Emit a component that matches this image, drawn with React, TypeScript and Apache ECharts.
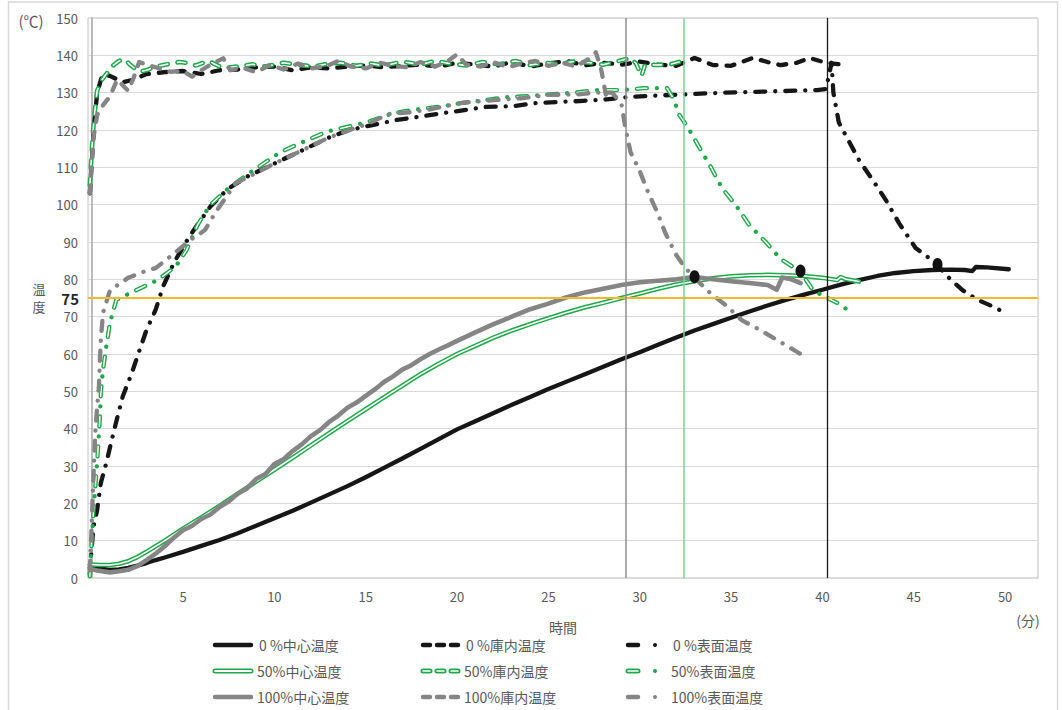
import React, { useEffect, useRef } from "react";
import * as echarts from "echarts";

// ---------- data (time in minutes, temperature in ℃) ----------
const xTickLabels = [5, 10, 15, 20, 25, 30, 35, 40, 45, 50];

const center0: number[][] = [
  [-0.1, 2.8], [0.5, 2.5], [1, 2.2], [1.5, 2.3], [2, 2.7], [2.5, 3.3], [3, 4], [3.5, 4.8], [4, 5.5], [5, 7],
  [6, 8.6], [7, 10.2], [8, 12], [9, 14], [10, 16], [11, 18], [12, 20.2], [13, 22.4], [14, 24.6], [15, 27],
  [16, 29.5], [17, 32], [18, 34.6], [19, 37.2], [20, 39.8], [21, 42], [22, 44.2], [23, 46.4], [24, 48.5],
  [25, 50.6], [26, 52.6], [27, 54.6], [28, 56.6], [29, 58.6], [30, 60.5], [31, 62.5], [32, 64.4], [33, 66.3],
  [34, 68], [35, 69.7], [36, 71.4], [37, 73], [38, 74.5], [39, 75.9], [40, 77.2], [41, 78.6], [42, 79.8],
  [43, 80.9], [44, 81.7], [45, 82.2], [46, 82.5], [47, 82.6], [47.8, 82.5], [48.2, 82.2], [48.4, 83.3],
  [49, 83.2], [50.2, 82.7],
];

const chamber0: number[][] = [
  [-0.1, 103], [0.05, 115], [0.15, 122], [0.3, 130], [0.6, 135], [1, 134.5], [1.7, 132.8], [2.3, 133.5],
  [3, 135], [4, 135.5], [5, 135.8], [6, 135], [7, 136], [8, 136.2], [9, 136.8], [10, 137], [11, 136],
  [12, 136.8], [13, 136.5], [14, 137], [15, 137.3], [16, 136.8], [17, 137.2], [18, 137.5], [19, 137],
  [20, 138], [21, 137.5], [22, 137], [23, 138.2], [24, 137], [25, 137.8], [26, 138.5], [27, 137.3],
  [28, 138], [29, 137.5], [30, 138.3], [31, 137.5], [32, 137.2], [33, 139.3], [34, 137.4], [35, 137.2],
  [36.2, 139.3], [37, 138.2], [37.7, 137.4], [38.6, 138], [39.3, 139.3], [40.2, 138], [41.3, 137.4],
];

const surface0: number[][] = [
  [-0.1, 1], [0, 8], [0.1, 13.7], [0.3, 18.2], [0.5, 25.4], [0.8, 30.8], [1.1, 37], [1.4, 42.9], [1.7, 48.6],
  [2.2, 54.9], [2.5, 59.3], [3, 66.4], [3.5, 71.8], [3.9, 78], [4.5, 84.4], [5.1, 89.5], [5.7, 94],
  [6.5, 99.5], [7.4, 104], [8.5, 107.5], [10, 111], [11.5, 114.5], [13, 118], [14.1, 120], [16.7, 122.7],
  [18, 123.6], [19.2, 124.5], [20.5, 125.4], [21.6, 126.2], [23.1, 126.4], [24.3, 127.2], [26.9, 127.8],
  [28.2, 128.2], [29.5, 128.9], [31.8, 129.4], [34.6, 130], [36.9, 130.3], [39.7, 130.7], [40.2, 131],
  [40.5, 138], [40.6, 130], [40.9, 122], [41.5, 116.5], [42, 112], [42.9, 105.5], [43.5, 101], [44.2, 95],
  [45.1, 88.4], [45.9, 85.5], [46.3, 83.8], [47, 80], [47.7, 77], [48.5, 74.5], [49.2, 73], [49.9, 71.3],
];

const center50: number[][] = [
  [-0.1, 3.6], [0.5, 3.5], [1, 3.5], [1.5, 3.8], [2, 4.5], [2.5, 5.6], [3, 7], [3.5, 8.5], [4, 10], [5, 13.2],
  [6, 16.2], [7, 19.3], [8, 22.6], [9, 25.8], [10, 29], [11, 32.2], [12, 35.5], [13, 38.8], [14, 42],
  [15, 45.2], [16, 48.4], [17, 51.5], [18, 54.6], [19, 57.4], [20, 60], [21, 62.2], [22, 64.4], [23, 66.3],
  [24, 68], [25, 69.6], [26, 71.1], [27, 72.5], [28, 73.7], [29, 75], [30, 76.2], [31, 77.5], [32, 78.6],
  [33, 79.5], [34, 80.3], [35, 80.8], [36, 81.1], [37, 81.2], [38, 81.1], [39, 80.9], [40, 80.4],
  [40.8, 79.8], [41, 80.6], [41.3, 80], [42, 79.4],
];

const chamber50: number[][] = [
  [-0.1, 105], [0.05, 118], [0.15, 124], [0.3, 130.5], [0.5, 133], [0.8, 135], [1.2, 137.4], [1.5, 138.5],
  [1.8, 139], [2.1, 137.5], [2.6, 135.6], [3, 136], [3.4, 136.8], [4, 137.5], [4.8, 138.2], [5.2, 138],
  [5.7, 137.3], [6.4, 138.5], [6.8, 137.5], [7.2, 136.6], [8, 137], [8.8, 137.6], [9.5, 137], [10.5, 138],
  [11.3, 137.5], [12.1, 137], [12.8, 137.6], [13.6, 138], [14.5, 137.2], [15.3, 137.8], [16, 137.2],
  [17, 138.3], [18, 137.5], [18.8, 138.5], [19.6, 137.8], [20.5, 137.3], [21.4, 138.2], [22.3, 137.6],
  [23.2, 138.5], [24, 137.4], [24.8, 138], [25.6, 137.6], [26.4, 138.4], [27.3, 138], [28, 137.5],
  [28.6, 138.2], [29.5, 139.3], [29.8, 137.8], [30.1, 134.5], [30.3, 137.6], [30.9, 137.4], [31.6, 137.5],
  [32.2, 138.3], [32.4, 138.5],
];

const surface50: number[][] = [
  [-0.1, 0.5], [0, 10], [0.1, 18], [0.2, 24.5], [0.3, 31], [0.4, 38.8], [0.45, 43], [0.5, 49.5],
  [0.62, 55.7], [0.8, 62], [1, 68.3], [1.35, 74.5], [2.4, 77], [3.6, 79.8], [4.6, 83.4], [5.2, 87.9],
  [5.8, 94.6], [6.5, 100], [7.4, 104], [8.5, 108], [10.3, 114], [11.8, 117.3], [12.9, 119.6], [15, 122],
  [16.5, 124.5], [17.6, 125.4], [19, 126.2], [20.2, 127.2], [21.4, 127.9], [22.7, 128.8], [24, 129.1],
  [25.3, 129.6], [26.5, 130], [27.6, 130.7], [29.1, 130.7], [30.2, 131.2], [31.5, 131.2], [31.9, 128],
  [32.1, 124.5], [32.6, 121], [33.3, 115], [33.9, 110], [34.5, 104.5], [35.3, 99.6], [36, 94.5],
  [36.9, 90], [37.7, 85.5], [38.8, 82], [39.5, 77], [40.8, 73.7], [41.7, 70.8],
];

const center100: number[][] = [
  [-0.1, 2.5], [0.3, 2], [1, 1.5], [1.5, 1.8], [2, 2.2], [2.5, 3.2], [3, 4.8], [3.5, 6.5], [4, 8.5],
  [4.5, 10.8], [5, 12.8], [5.5, 14], [6, 15.8], [6.5, 17], [7, 19], [7.5, 20.5], [8, 22.6], [8.5, 24],
  [9, 26.5], [9.5, 27.8], [10, 30.5], [10.5, 31.8], [11, 34], [11.5, 35.8], [12, 38], [12.5, 39.6],
  [13, 41.8], [13.5, 43.5], [14, 45.6], [14.5, 47], [15, 48.8], [15.5, 50.5], [16, 52.5], [16.5, 54],
  [17, 55.8], [17.5, 57], [18, 58.6], [18.5, 60], [19, 61.2], [19.5, 62.3], [20, 63.5], [21, 65.8],
  [22, 68], [23, 70], [24, 72], [25, 73.5], [26, 75.2], [27, 76.5], [28, 77.5], [29, 78.5], [30, 79.2],
  [31, 79.6], [32, 80], [33, 80.6], [34, 80], [35, 79.5], [36, 79], [37, 78.5], [37.5, 77.2], [37.8, 80.5],
  [38.3, 80], [38.8, 79],
];

const chamber100: number[][] = [
  [-0.1, 103], [0.1, 118], [0.3, 124], [0.6, 126.5], [1, 129], [1.4, 133.5], [1.7, 132], [2, 130.5],
  [2.3, 134], [2.6, 138.2], [3, 137.5], [3.5, 136.8], [4.3, 135.6], [5, 135.8], [5.5, 134.3], [6, 136],
  [6.5, 137.5], [7.2, 139.2], [7.6, 136], [8.2, 136.8], [9, 135.5], [9.8, 137.5], [10.5, 136.2],
  [11.3, 137.8], [12, 136.5], [12.8, 137], [13.5, 138.5], [14.2, 137], [15, 136.5], [15.8, 138],
  [16.5, 137.2], [17.3, 136.8], [18, 138.2], [18.8, 137], [19.5, 138.5], [20, 140.3], [20.5, 137.5],
  [21.3, 137], [22, 138.2], [22.8, 136.8], [23.5, 137.8], [24.3, 138.5], [25, 137.2], [25.8, 138],
  [26.5, 137], [27.2, 139], [27.6, 140.8], [27.9, 136], [28.2, 128],
];

const surface100: number[][] = [
  [-0.1, 2], [0, 14], [0.05, 21], [0.1, 27], [0.15, 33.4], [0.2, 39], [0.3, 45.8], [0.4, 51.5],
  [0.45, 58.4], [0.5, 63.5], [0.62, 71], [1, 77], [2, 80.4], [3.1, 82.5], [3.5, 83], [4.2, 85.7],
  [5.4, 90.5], [6.2, 93.2], [6.8, 98.1], [7.9, 105.8], [9, 108.5], [10, 111], [11.5, 114.5], [13, 118],
  [15, 121.5], [16.3, 124.3], [17.5, 124.8], [18.5, 125.5], [20.3, 127.3], [22, 128], [23.5, 128.5],
  [25, 129.4], [26.5, 129.5], [27.5, 130], [28.5, 130], [29, 127], [29.2, 121], [29.5, 114], [30, 109],
  [30.4, 104], [31, 97.5], [31.4, 92.4], [32, 86.5], [32.5, 83], [33, 80.5], [33.7, 77], [34.8, 72.7],
  [35.6, 69], [36.6, 66.4], [37.7, 63.2], [38.6, 60.6], [38.9, 59.7],
];

const crossPoints: number[][] = [[33, 80.7], [38.8, 82.2], [46.3, 84]];
const doorOpen100 = 29.25;
const doorOpen50 = 32.4;
const doorOpen0 = 40.25;
const targetTemp = 75;

const legendRows = [
  ["0 %中心温度", "0 %庫内温度", "0 %表面温度"],
  ["50%中心温度", "50%庫内温度", "50%表面温度"],
  ["100%中心温度", "100%庫内温度", "100%表面温度"],
];

// ---------- styles ----------
const FONT = "'Noto Sans CJK JP', 'Noto Sans', sans-serif";
const BLACK = "#161616";
const GRAY = "#858585";
const GREEN = "#1fa84a";
const WHITE = "#ffffff";
const TEXT = "#595959";
const W = 4.3;
const DASH = [8, 10];
const DASH_DOT = [10, 10, 0.01, 10];
const DASH_DOT_WHITE = [10, 20.01];

function line(name: string, data: number[][], color: string, width: number, type: any) {
  return {
    type: "line",
    name,
    data,
    symbol: "none",
    showSymbol: false,
    silent: true,
    lineStyle: { color, width, type, cap: "round", join: "round" },
  };
}

function buildLegend() {
  const colors = [BLACK, GREEN, GRAY];
  const rowY = [645, 671, 697];
  const colX = [213, 420, 625];
  const els: any[] = [];
  legendRows.forEach((row, r) => {
    const y = rowY[r];
    const c = colors[r];
    const green = r === 1;
    row.forEach((label, k) => {
      const x0 = colX[k];
      if (k === 0) {
        els.push({ type: "line", shape: { x1: x0 + 2, y1: y, x2: x0 + 38, y2: y }, style: { stroke: c, lineWidth: green ? 5 : 4.5, lineCap: "round" } });
        if (green) els.push({ type: "line", shape: { x1: x0 + 2, y1: y, x2: x0 + 38, y2: y }, style: { stroke: WHITE, lineWidth: 1.8, lineCap: "round" } });
      } else if (k === 1) {
        els.push({ type: "line", shape: { x1: x0 + 3, y1: y, x2: x0 + 40, y2: y }, style: { stroke: c, lineWidth: green ? 5 : 4.5, lineCap: "round", lineDash: [7, 7] } });
        if (green) els.push({ type: "line", shape: { x1: x0 + 3, y1: y, x2: x0 + 40, y2: y }, style: { stroke: WHITE, lineWidth: 1.6, lineCap: "round", lineDash: [7, 7] } });
      } else {
        els.push({ type: "line", shape: { x1: x0 + 3, y1: y, x2: x0 + 13, y2: y }, style: { stroke: c, lineWidth: green ? 5 : 4.5, lineCap: "round" } });
        if (green) els.push({ type: "line", shape: { x1: x0 + 3, y1: y, x2: x0 + 13, y2: y }, style: { stroke: WHITE, lineWidth: 1.6, lineCap: "round" } });
        els.push({ type: "circle", shape: { cx: x0 + 30, cy: y, r: 2 }, style: { fill: c } });
      }
      els.push({
        type: "text",
        x: x0 + (k === 2 ? 46 : 44) + (r === 0 ? 2 : 0),
        y,
        style: { text: label, fill: TEXT, font: `14px ${FONT}`, textVerticalAlign: "middle", textAlign: "left" },
      });
    });
  });
  return els;
}

export default function App() {
  const ref = useRef<HTMLDivElement>(null);
  useEffect(() => {
    document.body.style.margin = "0";
    const chart = echarts.init(ref.current!, null, { renderer: "svg" });
    const option: any = {
      animation: false,
      backgroundColor: "#ffffff",
      textStyle: { fontFamily: FONT },
      grid: { left: 88, right: 24, top: 18, bottom: 132, show: true, borderColor: "#bfbfbf", borderWidth: 1 },
      xAxis: {
        type: "value",
        min: -0.2,
        max: 51.8,
        name: "時間",
        nameLocation: "middle",
        nameGap: 42,
        nameTextStyle: { color: TEXT, fontSize: 14, fontFamily: FONT },
        axisLine: { show: true, lineStyle: { color: "#d9d9d9", width: 1 } },
        axisTick: { show: false },
        splitLine: { show: false },
        axisLabel: { customValues: xTickLabels, color: TEXT, fontSize: 13, margin: 12, fontFamily: FONT },
      },
      yAxis: {
        type: "value",
        min: 0,
        max: 150,
        interval: 10,
        axisLine: { show: true, lineStyle: { color: "#a6a6a6", width: 1.5 } },
        axisTick: { show: false },
        splitLine: { show: true, lineStyle: { color: "#d9d9d9", width: 1 } },
        axisLabel: { color: TEXT, fontSize: 13, margin: 10, fontFamily: FONT },
      },
      graphic: [
        { type: "rect", shape: { x: 8.5, y: 2, width: 1049, height: 720 }, style: { fill: "rgba(0,0,0,0)", stroke: "#d9d9d9", lineWidth: 1.5 }, silent: true },
        { type: "text", x: 31, y: 20, style: { text: "(℃)", fill: TEXT, font: `15px ${FONT}`, textAlign: "center", textVerticalAlign: "middle" } },
        { type: "text", x: 39, y: 288, style: { text: "温", fill: TEXT, font: `13px ${FONT}`, textAlign: "center", textVerticalAlign: "middle" } },
        { type: "text", x: 39, y: 306, style: { text: "度", fill: TEXT, font: `13px ${FONT}`, textAlign: "center", textVerticalAlign: "middle" } },
        { type: "text", x: 1028, y: 620, style: { text: "(分)", fill: TEXT, font: `14px ${FONT}`, textAlign: "center", textVerticalAlign: "middle" } },
        ...buildLegend(),
      ],
      series: [
        line("0%中心温度", center0, BLACK, W, "solid"),
        line("0%庫内温度", chamber0, BLACK, W, DASH),
        line("0%表面温度", surface0, BLACK, W, DASH_DOT),
        line("50%中心温度", center50, GREEN, 4.6, "solid"),
        line("50%中心温度(inner)", center50, WHITE, 1.6, "solid"),
        line("50%庫内温度", chamber50, GREEN, 4.6, DASH),
        line("50%庫内温度(inner)", chamber50, WHITE, 1.6, DASH),
        line("50%表面温度", surface50, GREEN, 4.3, DASH_DOT),
        line("50%表面温度(inner)", surface50, WHITE, 1.5, DASH_DOT_WHITE),
        line("100%中心温度", center100, GRAY, 4.6, "solid"),
        line("100%庫内温度", chamber100, GRAY, W, DASH),
        line("100%表面温度", surface100, GRAY, W, DASH_DOT),
        {
          type: "scatter",
          name: "crossing",
          data: crossPoints,
          symbol: "circle",
          symbolSize: [10, 13],
          itemStyle: { color: "#111111", opacity: 1 },
          silent: true,
          z: 4,
        },
        {
          type: "line",
          name: "refs",
          data: [],
          symbol: "none",
          silent: true,
          z: 5,
          markLine: {
            silent: true,
            symbol: ["none", "none"],
            animation: false,
            label: { show: false },
            data: [
              { yAxis: targetTemp, lineStyle: { color: "#f5b82e", width: 2, type: "solid" },
                label: { show: true, position: "start", formatter: "75", distance: 9, color: "#262626", fontSize: 15, fontWeight: "bold", fontFamily: FONT } },
              { xAxis: doorOpen100, lineStyle: { color: "#8c8c8c", width: 1.5, type: "solid" } },
              { xAxis: doorOpen50, lineStyle: { color: "#7fcf96", width: 1.5, type: "solid" } },
              { xAxis: doorOpen0, lineStyle: { color: "#1a1a1a", width: 1.3, type: "solid" } },
            ],
          },
        },
      ],
    };
    chart.setOption(option);
    return () => chart.dispose();
  }, []);
  return <div ref={ref} style={{ width: 1062, height: 710 }} />;
}
